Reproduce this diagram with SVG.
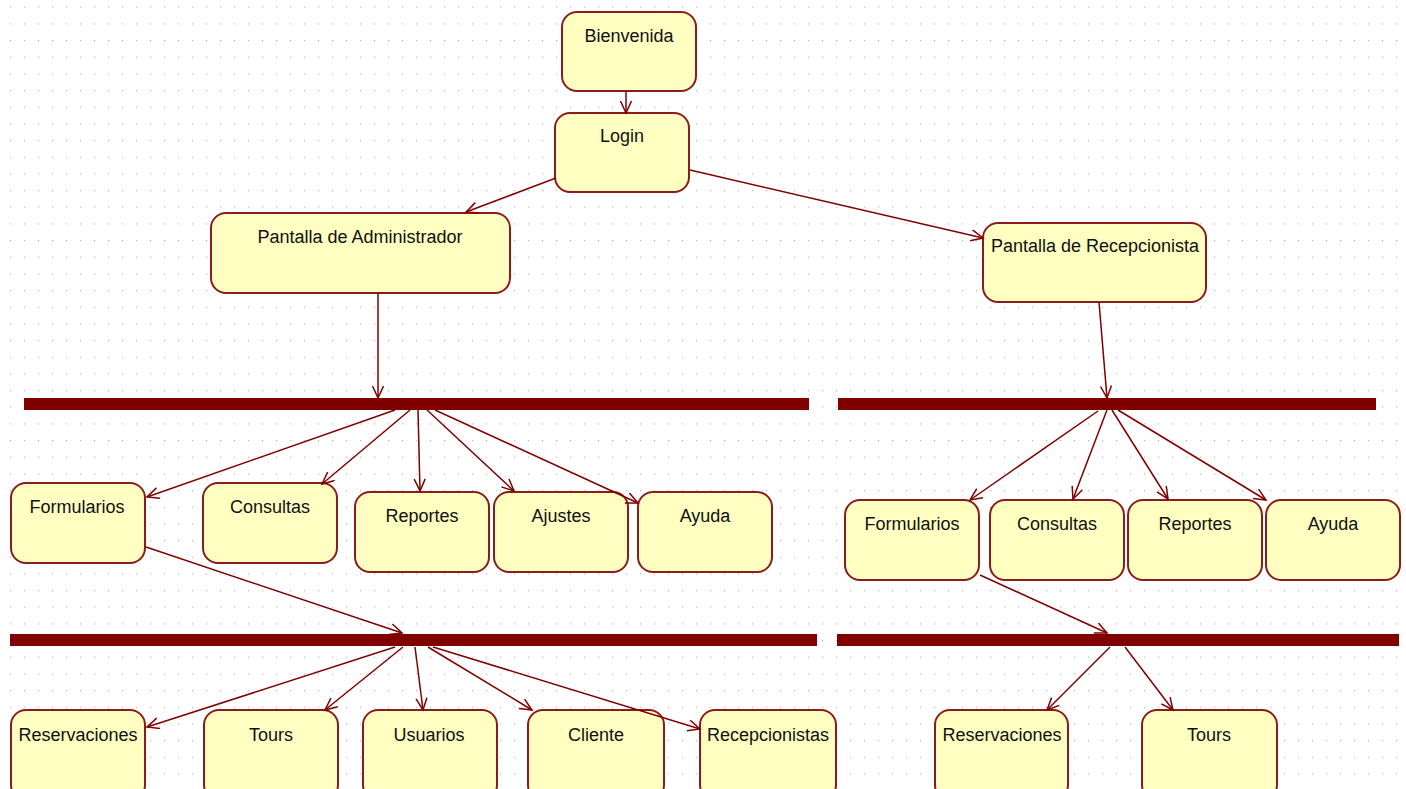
<svg xmlns="http://www.w3.org/2000/svg" width="1406" height="789" viewBox="0 0 1406 789">
<defs>
<pattern id="grid" x="10" y="6.67" width="14" height="16.667" patternUnits="userSpaceOnUse">
<rect x="0" y="0" width="1.2" height="1.2" fill="#b8b8b8"/>
</pattern>
<marker id="arr" markerUnits="userSpaceOnUse" markerWidth="16" markerHeight="14" refX="13" refY="6" orient="auto">
<path d="M1,0.5 L13,6 L1,11.5" fill="none" stroke="#800000" stroke-width="1.5"/>
</marker>
</defs>
<style>
.node rect{fill:#ffffc2;stroke:#8b1c1c;stroke-width:2}
.node text{font-family:"Liberation Sans",Arial,sans-serif;font-size:18px;fill:#111;text-anchor:middle}
.bar{fill:#800000}
#connectors line{stroke:#800000;stroke-width:1.5;fill:none;marker-end:url(#arr)}
</style>
<rect width="1406" height="789" fill="#ffffff"/>
<rect width="1406" height="789" fill="url(#grid)"/>

<g id="bars">
<rect class="bar" x="24" y="398" width="785" height="12"/>
<rect class="bar" x="838" y="398" width="538" height="12"/>
<rect class="bar" x="10" y="634" width="807" height="12"/>
<rect class="bar" x="837" y="634" width="562" height="12"/>
</g>

<g id="n-bienvenida" class="node"><rect x="562" y="12" width="134" height="79" rx="15"/><text x="629" y="42">Bienvenida</text></g>
<g id="n-login" class="node"><rect x="555" y="113" width="134" height="79" rx="15"/><text x="622" y="142">Login</text></g>
<g id="n-admin" class="node"><rect x="211" y="213" width="299" height="80" rx="15"/><text x="360" y="243">Pantalla de Administrador</text></g>
<g id="n-recep" class="node"><rect x="983" y="223" width="223" height="79" rx="15"/><text x="1095" y="252">Pantalla de Recepcionista</text></g>

<g id="n-a-formularios" class="node"><rect x="11" y="483" width="134" height="80" rx="15"/><text x="77" y="513">Formularios</text></g>
<g id="n-a-consultas" class="node"><rect x="203" y="483" width="134" height="80" rx="15"/><text x="270" y="513">Consultas</text></g>
<g id="n-a-reportes" class="node"><rect x="355" y="492" width="134" height="80" rx="15"/><text x="422" y="522">Reportes</text></g>
<g id="n-a-ajustes" class="node"><rect x="494" y="492" width="134" height="80" rx="15"/><text x="561" y="522">Ajustes</text></g>
<g id="n-a-ayuda" class="node"><rect x="638" y="492" width="134" height="80" rx="15"/><text x="705" y="522">Ayuda</text></g>

<g id="n-r-formularios" class="node"><rect x="845" y="500" width="134" height="80" rx="15"/><text x="912" y="530">Formularios</text></g>
<g id="n-r-consultas" class="node"><rect x="990" y="500" width="134" height="80" rx="15"/><text x="1057" y="530">Consultas</text></g>
<g id="n-r-reportes" class="node"><rect x="1128" y="500" width="134" height="80" rx="15"/><text x="1195" y="530">Reportes</text></g>
<g id="n-r-ayuda" class="node"><rect x="1266" y="500" width="134" height="80" rx="15"/><text x="1333" y="530">Ayuda</text></g>

<g id="n-a-reservaciones" class="node"><rect x="11" y="710" width="134" height="90" rx="15"/><text x="78" y="741">Reservaciones</text></g>
<g id="n-a-tours" class="node"><rect x="204" y="710" width="134" height="90" rx="15"/><text x="271" y="741">Tours</text></g>
<g id="n-a-usuarios" class="node"><rect x="363" y="710" width="134" height="90" rx="15"/><text x="429" y="741">Usuarios</text></g>
<g id="n-a-cliente" class="node"><rect x="528" y="710" width="136" height="90" rx="15"/><text x="596" y="741">Cliente</text></g>
<g id="n-a-recepcionistas" class="node"><rect x="700" y="710" width="136" height="90" rx="15"/><text x="768" y="741">Recepcionistas</text></g>

<g id="n-r-reservaciones" class="node"><rect x="935" y="710" width="133" height="90" rx="15"/><text x="1002" y="741">Reservaciones</text></g>
<g id="n-r-tours" class="node"><rect x="1142" y="710" width="135" height="90" rx="15"/><text x="1209" y="741">Tours</text></g>

<g id="connectors">
<line x1="626" y1="91" x2="626" y2="113"/>
<line x1="556" y1="178" x2="466" y2="212"/>
<line x1="690" y1="170" x2="983" y2="238"/>
<line x1="378" y1="293" x2="378" y2="398"/>
<line x1="1099" y1="302" x2="1107" y2="398"/>

<line x1="395" y1="410" x2="147" y2="497"/>
<line x1="410" y1="410" x2="322" y2="484"/>
<line x1="418" y1="410" x2="420" y2="491"/>
<line x1="427" y1="410" x2="514" y2="491"/>
<line x1="435" y1="410" x2="638" y2="503"/>

<line x1="1098" y1="411" x2="970" y2="500"/>
<line x1="1107" y1="410" x2="1073" y2="499"/>
<line x1="1112" y1="410" x2="1168" y2="499"/>
<line x1="1118" y1="410" x2="1266" y2="500"/>

<line x1="146" y1="547" x2="402" y2="633"/>
<line x1="980" y1="575" x2="1107" y2="633"/>

<line x1="395" y1="647" x2="147" y2="727"/>
<line x1="403" y1="647" x2="325" y2="710"/>
<line x1="415" y1="647" x2="423" y2="710"/>
<line x1="428" y1="647" x2="532" y2="710"/>
<line x1="433" y1="647" x2="700" y2="729"/>

<line x1="1110" y1="647" x2="1047" y2="710"/>
<line x1="1125" y1="647" x2="1173" y2="710"/>
</g>
</svg>
